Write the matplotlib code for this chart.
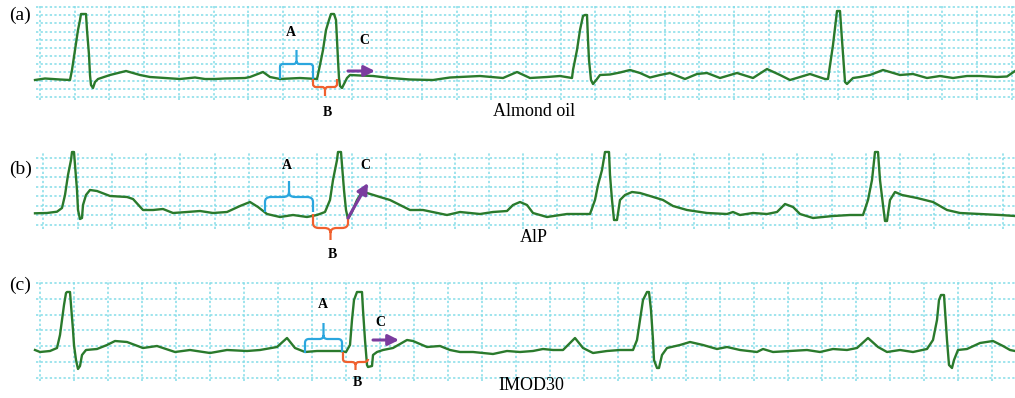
import matplotlib
matplotlib.use("Agg")
import matplotlib.pyplot as plt
import numpy as np
from matplotlib.path import Path
from matplotlib.patches import PathPatch

# ECG traces: time (samples) and amplitude (relative to baseline)
t_a = [35, 45, 60, 70, 72, 75, 78, 80, 81, 86, 87, 89, 90, 91, 93, 95, 98, 110, 126, 140,
       150, 165, 180, 195, 205, 215, 225, 245, 250, 263, 270, 280, 290, 300, 317, 320, 323,
       326, 329, 331, 334, 336, 337, 338, 339, 340, 342, 344, 347, 350, 360, 373, 390, 410,
       433, 450, 480, 503, 517, 530, 547, 560, 572, 573, 577, 580, 583, 585, 587, 588, 589,
       591, 593, 597, 600, 610, 620, 630, 640, 650, 660, 670, 685, 697, 707, 720, 737, 753,
       767, 780, 790, 810, 825, 828, 833, 837, 840, 842, 845, 847, 853, 860, 870, 883, 890,
       900, 913, 927, 940, 953, 967, 980, 997, 1007, 1015]
v_a = [-1, 0.5, -0.5, -1, 9, 29, 49, 59, 65, 65, 49, 24, 4, -6, -9, -3, 0, 4, 8, 4,
       2, 1, 0, 1.5, 0, 0, 0.5, 1, 2, 7, 2, 0, 0.5, 1, 0, 14, 29,
       49, 59, 65, 65, 59, 39, 19, 1, -7, -9, -5, 1, 4, 3.5, 3, 1, -0.5,
       -1, 1.5, 3, 1, 7, 1, 2, 3, 1, 9, 29, 49, 63, 64, 64, 39, 19,
       -1, -5, 0, 4, 4.5, 6.5, 9, 6, 1.5, 4, 6, 0, 5, 6, 1, 6, 1,
       10, 4, -1, 5, 0, 0, 34, 68, 68, 39, -3, -5, 1, 2, 4, 9, 7,
       4, 5, 1, 3, 1, 3, 3, 2, 2.5, 8]

t_b = [35, 47, 57, 62, 65, 68, 71, 72, 74, 75, 77, 78, 80, 82, 83, 86, 90, 97, 110, 127,
       133, 143, 153, 163, 173, 187, 200, 213, 227, 240, 250, 258, 267, 280, 293, 307, 317,
       325, 330, 333, 337, 338, 341, 342, 344, 346, 348, 352, 357, 362, 367, 380, 390, 410,
       423, 447, 460, 480, 493, 507, 513, 520, 527, 533, 547, 567, 590, 595, 598, 602, 605,
       609, 610, 612, 614, 617, 620, 625, 632, 640, 650, 663, 673, 687, 707, 727, 733, 740,
       753, 767, 777, 785, 793, 800, 813, 833, 850, 863, 868, 872, 875, 878, 880, 883, 885,
       887, 890, 895, 902, 917, 933, 947, 960, 980, 1000, 1015]
v_b = [-0.3, 0, 1.3, 5, 18, 38, 53, 61, 61, 48, 23, 3, -6, -5, 8, 18, 23, 22, 17, 16,
       14, 3, 3, 4, 0, 1, 2, 0, 1, 7, 11, 6, -1, -4, -2, -4, -2,
       1, 13, 33, 53, 61, 61, 48, 23, 3, -6, 1, 13, 21, 20, 16, 13, 3,
       3, -2, 1, -1, 1, 2, 8, 11, 8, 0, -4, -1, -1, 13, 28, 43, 61,
       61, 38, 13, -7, -7, 13, 18, 21, 20, 17, 13, 7, 3, 0, -1, 1, -2,
       0, -1, 1, 9, 6, -1, -5, -3, -2, -2, 13, 33, 61, 61, 33, 8, -8,
       -8, 13, 21, 18, 15, 11, 3, 0, -1, -2, -3]

t_c = [35, 40, 50, 57, 60, 62, 64, 66, 67, 70, 71, 73, 74, 76, 78, 80, 82, 86, 97, 107,
       115, 127, 143, 157, 175, 190, 210, 227, 247, 260, 277, 287, 295, 305, 317, 340, 346,
       350, 352, 354, 357, 362, 363, 365, 367, 368, 372, 373, 377, 383, 393, 400, 407, 413,
       427, 440, 450, 460, 473, 493, 507, 520, 533, 543, 553, 563, 575, 583, 593, 607, 620,
       633, 637, 640, 643, 647, 649, 651, 653, 654, 657, 659, 662, 667, 680, 690, 703, 717,
       727, 740, 757, 763, 773, 790, 807, 820, 833, 847, 857, 868, 878, 887, 900, 913, 927,
       933, 937, 939, 941, 944, 945, 947, 949, 952, 954, 958, 967, 980, 993, 1003, 1010, 1015]
v_c = [0, -2, -1, 2, 15, 30, 45, 57, 58, 58, 45, 20, 5, -10, -19, -16, -5, 0, 1, 5,
       9, 8, 2, 4, -2, 0, -3, 0, -1, 0, 3, 12, 2, -2, -1, -1, -2,
       5, 30, 50, 58, 58, 40, 10, -15, -17, -16, -5, -2, 0, 2, 6, 10, 9,
       3, 4, 0, -2, -2, -4, -1, -2, -1, 1, 0, 0, 12, 2, -3, -1, 0,
       0, 10, 30, 50, 58, 58, 40, 10, -10, -18, -18, -5, 2, 5, 8, 5, 1,
       3, 0, -2, 1, -2, -1, 0, -2, 1, 0, 2, 12, 3, -2, 0, -2, 1,
       10, 30, 50, 55, 55, 40, 10, -15, -18, -10, 0, 1, 7, 9, 4, 0, -1]

names = ["Almond oil", "AlP", "IMOD30"]
tags = ["(a)", "(b)", "(c)"]

W, H = 1015, 398
GREEN = "#2a7a2c"
GRID = "#84dde8"
BLUE = "#2aa6de"
ORANGE = "#f0602e"
PURPLE = "#7b3c9e"
SERIF = "Liberation Serif"

fig = plt.figure(figsize=(W / 100, H / 100), dpi=100)


def add_panel(top, bottom, base, vstart, vstep, hstart, hstep, nrows):
    ax = fig.add_axes([36 / W, 1 - bottom / H, (W - 36) / W, (bottom - top) / H])
    ax.set_xlim(36, W)
    ax.set_ylim(base - bottom, base - top)
    ax.set_xticks(np.arange(vstart, W, vstep))
    ax.set_yticks([base - (hstart + k * hstep) for k in range(nrows)])
    ax.grid(True, color=GRID, linestyle=(0, (1.5, 1.5)), linewidth=1.1)
    ax.tick_params(length=0, labelbottom=False, labelleft=False)
    for s in ax.spines.values():
        s.set_visible(False)
    ax.set_axisbelow(True)
    return ax


def brace(ax, x0, x1, ya, yb, ybar, ytip, color, rx=3, ry=3):
    xm = (x0 + x1) / 2
    s = np.sign(ybar - ya)
    verts = [(x0, ya), (x0, ybar - s * ry), (x0, ybar), (x0 + rx, ybar),
             (xm - rx, ybar), (xm, ybar), (xm, ybar + s * ry), (xm, ytip),
             (xm, ybar + s * ry), (xm, ybar), (xm + rx, ybar),
             (x1 - rx, ybar), (x1, ybar), (x1, ybar - s * ry), (x1, yb)]
    codes = [Path.MOVETO, Path.LINETO, Path.CURVE3, Path.CURVE3,
             Path.LINETO, Path.CURVE3, Path.CURVE3, Path.LINETO,
             Path.MOVETO, Path.CURVE3, Path.CURVE3,
             Path.LINETO, Path.CURVE3, Path.CURVE3, Path.LINETO]
    ax.add_patch(PathPatch(Path(verts, codes), fill=False, edgecolor=color,
                           linewidth=1.6, clip_on=False, zorder=4))


def arrow(ax, x0, y0, x1, y1):
    ax.annotate("", xy=(x1, y1), xytext=(x0, y0), annotation_clip=False,
                arrowprops=dict(arrowstyle="-|>", color=PURPLE, lw=2.2,
                                mutation_scale=16, shrinkA=0, shrinkB=0), zorder=5)


def label(x, y, s, size=10, bold=True, ha="center"):
    fig.text(x / W, 1 - y / H, s, ha=ha, va="center", fontsize=size,
             fontweight="bold" if bold else "normal", family=SERIF)


ax_a = add_panel(5, 100, 79, 40, 34.71, 7, 8.18, 12)
ax_b = add_panel(152, 229, 213, 43.3, 34.27, 158, 9.57, 8)
ax_c = add_panel(280, 381, 350, 40, 34.0, 283, 15.75, 7)

for ax, t, v in [(ax_a, t_a, v_a), (ax_b, t_b, v_b), (ax_c, t_c, v_c)]:
    ax.plot(t, v, color=GREEN, linewidth=1.7, clip_on=False, zorder=3,
            solid_joinstyle="round")

# panel (a) annotations
brace(ax_a, 280, 313, 0, 0, 15, 29, BLUE)
brace(ax_a, 313, 337, 0, 0, -8, -17, ORANGE)
arrow(ax_a, 348, 8, 375, 8)
# panel (b)
brace(ax_b, 265, 313, 1, 1, 16, 32, BLUE, rx=6, ry=5)
brace(ax_b, 313, 348, -1, -5, -15, -27, ORANGE, rx=6, ry=5)
arrow(ax_b, 348, -5, 368, 30)
# panel (c)
brace(ax_c, 305, 342, -3, -2, 11, 27, BLUE, rx=4, ry=4)
brace(ax_c, 343, 368, -2, -10, -12, -20, ORANGE, rx=4, ry=3)
arrow(ax_c, 373, 10, 399, 10)

for (x, y), s in zip([(291, 33), (327, 113), (364, 40),
                      (287, 166), (332, 254), (365, 166),
                      (323, 305), (357, 382), (380, 323)], "ABCABCABC"):
    label(x, y, s)

for (x, y), s in zip([(534, 111), (534, 238), (531, 386)], names):
    label(x, y, s, size=13, bold=False)
for (x, y), s in zip([(9, 15), (9, 169), (9, 285)], tags):
    label(x, y, s, size=14, bold=False, ha="left")

fig.savefig("out.png", dpi=100, facecolor="white")
